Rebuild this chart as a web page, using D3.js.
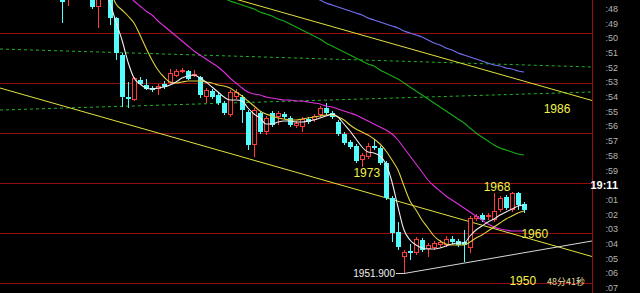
<!DOCTYPE html>
<html lang="zh">
<head>
<meta charset="utf-8">
<title>K线</title>
<script src="https://d3js.org/d3.v7.min.js"></script>
<style>
  html, body { margin: 0; padding: 0; background: #000; }
  svg { display: block; }
</style>
</head>
<body>
<script>
var w = 640, h = 293;
var plotRight = 592;

// candles (index 0 = first candle)
var opens  = [2007.6,2007.2,2010.0,2012.0,2011.0,2009.0,2005.2,2007.0,2009.0,2003.0,
              1995.6,1987.2,1986.6,1990.6,1989.6,1989.0,1988.8,1989.8,1990.0,1991.4,
              1992.2,1992.4,1991.4,1991.2,1987.2,1988.4,1987.6,1986.0,1983.6,1987.2,
              1987.2,1984.2,1977.6,1984.0,1980.2,1984.0,1983.2,1983.8,1983.0,1981.4,
              1981.2,1982.8,1982.6,1983.6,1985.0,1984.0,1982.2,1979.8,1978.2,1977.4,
              1974.6,1975.2,1977.4,1977.0,1974.0,1967.0,1960.2,1955.2,1956.4,1956.0,
              1958.6,1956.8,1957.0,1957.6,1957.6,1958.8,1958.4,1958.2,1957.0,1962.8,
              1963.6,1963.2,1962.6,1964.6,1967.2,1964.6,1968.0,1965.8];
var closes = [2006.2,2008.6,2012.0,2011.0,2009.0,2005.2,2007.0,2009.0,2003.0,1996.0,
              1987.2,1986.8,1991.0,1989.8,1988.8,1988.6,1989.4,1989.2,1992.0,1992.4,
              1992.6,1990.8,1991.8,1987.6,1988.6,1987.2,1986.0,1984.0,1988.2,1988.2,
              1984.6,1977.6,1984.6,1980.2,1983.0,1981.6,1984.0,1983.2,1981.6,1982.0,
              1982.8,1982.2,1983.4,1985.0,1984.0,1983.2,1979.8,1978.0,1977.2,1974.4,
              1975.6,1977.4,1977.0,1974.0,1967.0,1960.0,1957.2,1956.2,1956.0,1958.8,
              1956.6,1957.6,1958.0,1958.2,1958.8,1958.2,1957.6,1957.6,1963.0,1963.4,
              1962.6,1963.6,1964.4,1967.0,1965.0,1968.0,1965.6,1964.6];
var highs  = [2009.0,2010.0,2013.0,2014.0,2012.0,2010.0,2008.0,2010.0,2009.5,2003.2,
              1996.0,1990.2,1991.2,1991.2,1990.8,1989.4,1989.8,1990.4,1992.8,1992.8,
              1993.0,1992.6,1992.6,1991.4,1989.0,1988.8,1988.0,1986.4,1988.6,1988.8,
              1987.6,1984.6,1985.0,1984.4,1983.4,1984.4,1984.4,1984.2,1983.4,1982.4,
              1983.2,1983.2,1983.8,1985.4,1986.0,1984.4,1982.6,1980.2,1978.6,1977.8,
              1976.0,1978.0,1978.6,1977.4,1974.4,1967.4,1962.2,1956.6,1957.8,1959.2,
              1959.0,1958.0,1958.4,1958.6,1959.4,1959.4,1958.8,1960.6,1963.4,1963.8,
              1964.0,1964.0,1968.0,1967.4,1967.6,1968.2,1968.2,1966.2];
var lows   = [2002.0,2005.4,2008.5,2009.0,2007.5,2004.8,2001.0,2007.5,2001.6,1994.6,
              1985.2,1985.0,1986.4,1989.6,1988.6,1988.2,1987.6,1988.8,1989.8,1991.2,
              1992.0,1990.6,1991.2,1987.0,1986.0,1986.8,1985.6,1983.6,1983.2,1986.8,
              1982.0,1976.6,1975.2,1979.8,1979.6,1981.2,1981.6,1982.8,1981.2,1981.0,
              1980.2,1981.8,1982.2,1983.2,1983.6,1982.8,1979.4,1977.6,1976.8,1974.0,
              1973.2,1974.8,1976.6,1973.6,1966.6,1958.2,1956.6,1951.9,1954.6,1955.6,
              1956.2,1955.2,1956.6,1957.2,1957.2,1957.8,1957.2,1954.2,1956.0,1962.4,
              1962.2,1962.6,1962.2,1964.2,1964.6,1964.2,1964.6,1964.0];

// moving averages, each starts at the given candle index
var ma5Start = 7;
var ma5 = [2009.6,2006.0,2002.2,1998.6,1994.2,1991.0,1989.8,1989.0,1988.8,1989.0,
           1989.2,1989.6,1990.2,1991.0,1991.4,1991.6,1991.0,1990.2,1989.2,1988.2,
           1987.2,1986.6,1986.6,1986.4,1985.0,1983.8,1983.0,1981.8,1981.8,1982.2,
           1982.4,1982.4,1982.2,1982.2,1982.4,1982.6,1983.0,1983.4,1983.8,1983.2,
           1981.8,1980.4,1978.8,1977.2,1976.2,1976.0,1975.4,1973.8,1970.2,1965.2,
           1960.6,1958.6,1957.6,1957.0,1956.8,1956.8,1957.0,1957.4,1957.8,1958.0,
           1958.0,1959.4,1960.6,1961.4,1962.2,1962.8,1963.6,1964.2,1964.8,1965.4,1965.6];
var ma10Start = 8;
var ma10 = [2008.6,2005.8,2004.6,2003.4,2002.0,1999.6,1997.0,1994.6,1992.6,1991.2,
            1990.2,1990.0,1990.2,1990.4,1990.4,1990.4,1990.2,1990.0,1989.6,1989.4,
            1989.0,1988.2,1987.4,1986.4,1985.4,1984.4,1983.8,1983.4,1983.0,1982.8,
            1982.6,1982.6,1982.8,1983.0,1983.2,1983.4,1983.6,1983.6,1983.2,1982.6,
            1981.6,1980.8,1980.2,1979.6,1978.8,1977.8,1976.4,1974.6,1972.6,1969.4,
            1966.4,1964.6,1962.6,1961.0,1959.4,1958.4,1957.8,1957.6,1957.6,1957.6,
            1958.2,1959.0,1959.6,1960.4,1961.2,1962.0,1962.8,1963.4,1964.0,1964.4];
var ma20Start = 11;
var ma20 = [2007.6,2006.4,2005.4,2004.4,2003.6,2002.4,2001.4,2000.4,1999.4,1998.4,
            1997.4,1996.4,1995.6,1994.8,1994.0,1993.2,1992.2,1991.0,1990.0,1989.0,
            1988.2,1987.8,1987.6,1987.2,1987.0,1986.8,1986.6,1986.6,1986.4,1986.4,
            1986.2,1986.0,1985.8,1985.4,1985.2,1984.8,1984.4,1984.0,1983.6,1983.0,
            1982.4,1981.8,1981.2,1980.6,1979.8,1978.6,1977.0,1975.4,1973.8,1972.2,
            1970.6,1969.4,1968.4,1967.4,1966.6,1965.8,1965.0,1964.2,1963.4,1962.6,
            1961.8,1961.2,1960.8,1960.6,1960.4,1960.4,1960.4];
var ma60Start = 26;
var ma60 = [2008.2,2007.0,2006.4,2006.0,2005.6,2005.2,2004.8,2004.2,2003.8,2003.4,
            2002.8,2002.4,2001.8,2001.2,2000.6,2000.0,1999.4,1998.8,1998.0,1997.4,
            1996.8,1996.2,1995.6,1995.0,1994.4,1993.8,1993.4,1992.6,1992.0,1991.4,
            1990.8,1990.0,1989.2,1988.4,1987.6,1986.8,1986.0,1985.2,1984.4,1983.6,
            1982.8,1982.0,1981.0,1980.0,1979.2,1978.4,1977.6,1977.0,1976.6,1976.2,
            1975.8,1975.6];
var ma120Start = 42;
var ma120 = [2007.0,2006.6,2006.0,2005.6,2005.2,2004.8,2004.4,2004.0,2003.6,2003.0,
             2002.6,2002.2,2001.8,2001.4,2001.0,2000.4,2000.0,1999.6,1999.2,1998.6,
             1998.0,1997.6,1997.0,1996.6,1996.0,1995.6,1995.2,1994.8,1994.4,1994.0,
             1993.6,1993.4,1993.0,1992.8,1992.4,1992.2];

// drawn lines: [index, price] end points
var trendUpper = [[23, 2008.8], [88.33, 1986.5]];
var trendLower = [[-10.33, 1989.0], [88.33, 1955.3]];
var supportLine = [[57, 1951.9], [88.33, 1958.4]];
var dashUpper = [[-10.33, 1996.8], [88.33, 1993.2]];
var dashLower = [[-10.33, 1984.6], [88.33, 1988.2]];

var gridPrices = [1950, 1960, 1970, 1980, 1990, 2000];
var timeLabels = [":48", ":49", ":50", ":51", ":52", ":53", ":54", ":55", ":56", ":57",
                  ":58", ":59", "19:11", ":01", ":02", ":03", ":04", ":05", ":06", ":07"];
var noteTexts  = ["1986", "1973", "1968", "1960", "1950"];
var noteIndex  = [82.5, 50.8, 72.5, 78.8, 76.8];
var notePrice  = [1984.8, 1972.0, 1969.2, 1959.8, 1950.4];
var lowMark = {index: 57, price: 1951.9, text: "1951.900"};
var countdown = "48分41秒";

var svg = d3.select("body").append("svg")
            .attr("width", w)
            .attr("height", h)
            .style("background", "#000");

var x = d3.scaleLinear().domain([0, 77]).range([62, 524]);
var y = d3.scaleLinear().domain([1950, 2000]).range([283, 33]);
var crisp = function(v) { return Math.round(v) + 0.5; };

svg.append("clipPath").attr("id", "plot")
   .append("rect").attr("x", 0).attr("y", 0).attr("width", plotRight).attr("height", h);

var g = svg.append("g").attr("clip-path", "url(#plot)");

// red price grid
g.selectAll(".grid").data(gridPrices).enter().append("line")
 .attr("x1", 0).attr("x2", plotRight)
 .attr("y1", function(d) { return crisp(y(d)); })
 .attr("y2", function(d) { return crisp(y(d)); })
 .style("stroke", "#940e0e").style("stroke-width", 1)
 .style("shape-rendering", "crispEdges");

// green dashed levels
[dashUpper, dashLower].forEach(function(seg) {
  g.append("line")
   .attr("x1", x(seg[0][0])).attr("y1", y(seg[0][1]))
   .attr("x2", x(seg[1][0])).attr("y2", y(seg[1][1]))
   .style("stroke", "#22b422").style("stroke-width", 1)
   .style("stroke-dasharray", "3,3");
});

// trend lines
var straight = [
  {d: trendUpper, c: "#e2e23e"},
  {d: trendLower, c: "#e2e23e"},
  {d: supportLine, c: "#d8d8d8"}
];
straight.forEach(function(s) {
  g.append("line")
   .attr("x1", x(s.d[0][0])).attr("y1", y(s.d[0][1]))
   .attr("x2", x(s.d[1][0])).attr("y2", y(s.d[1][1]))
   .style("stroke", s.c).style("stroke-width", 1);
});

// candles
var idx = d3.range(opens.length);
var candle = g.selectAll(".candle").data(idx).enter().append("g").attr("class", "candle");

candle.each(function(i) {
  var el = d3.select(this);
  var cx = Math.round(x(i));
  var up = closes[i] > opens[i];
  var top = Math.round(y(Math.max(opens[i], closes[i])));
  var bot = Math.round(y(Math.min(opens[i], closes[i])));
  var hi = Math.round(y(highs[i]));
  var lo = Math.round(y(lows[i]));
  if (bot - top < 1) bot = top + 1;
  if (up) {
    var col = "#ff3c3c";
    el.append("line").attr("x1", cx + 0.5).attr("x2", cx + 0.5)
      .attr("y1", hi).attr("y2", top).style("stroke", col);
    el.append("line").attr("x1", cx + 0.5).attr("x2", cx + 0.5)
      .attr("y1", bot).attr("y2", lo).style("stroke", col);
    el.append("rect").attr("x", cx - 1.5).attr("y", top + 0.5)
      .attr("width", 4).attr("height", Math.max(bot - top - 1, 1))
      .style("fill", "#000").style("stroke", col);
  } else {
    var col2 = "#54fcfc";
    el.append("line").attr("x1", cx + 0.5).attr("x2", cx + 0.5)
      .attr("y1", hi).attr("y2", lo).style("stroke", col2);
    el.append("rect").attr("x", cx - 2).attr("y", top)
      .attr("width", 5).attr("height", bot - top)
      .style("fill", col2);
  }
});

// moving averages
var maLines = [
  {v: ma120, s: ma120Start, c: "#7070f0"},
  {v: ma60, s: ma60Start, c: "#18aa18"},
  {v: ma20, s: ma20Start, c: "#e030e0"},
  {v: ma10, s: ma10Start, c: "#e0d040"},
  {v: ma5, s: ma5Start, c: "#eeeeee"}
];
maLines.forEach(function(m) {
  var line = d3.line()
    .x(function(d, i) { return x(m.s + i); })
    .y(function(d) { return y(d); })
    .curve(d3.curveMonotoneX);
  g.append("path").datum(m.v).attr("d", line)
   .style("fill", "none").style("stroke", m.c).style("stroke-width", 1.1);
});

// low marker
g.append("line")
 .attr("x1", x(lowMark.index) - 8).attr("x2", x(lowMark.index))
 .attr("y1", crisp(y(lowMark.price))).attr("y2", crisp(y(lowMark.price)))
 .style("stroke", "#d8d8d8");
g.append("text")
 .attr("x", x(lowMark.index) - 9).attr("y", y(lowMark.price))
 .attr("text-anchor", "end").attr("dominant-baseline", "central")
 .style("font-family", "Liberation Sans, Arial, sans-serif")
 .style("font-size", "10px").style("fill", "#f0f0f0")
 .text(lowMark.text);

// price notes
g.selectAll(".note").data(noteTexts).enter().append("text")
 .attr("x", function(d, i) { return x(noteIndex[i]); })
 .attr("y", function(d, i) { return y(notePrice[i]); })
 .attr("text-anchor", "middle").attr("dominant-baseline", "central")
 .style("font-family", "Liberation Sans, Arial, sans-serif")
 .style("font-size", "12px").style("fill", "#f2f24a")
 .text(function(d) { return d; });

g.append("text")
 .attr("x", 566).attr("y", 281)
 .attr("text-anchor", "middle").attr("dominant-baseline", "central")
 .style("font-family", "Noto Sans CJK SC, sans-serif")
 .style("font-size", "9px").style("fill", "#e0dc9c")
 .text(countdown);

// right frame line
svg.append("line")
   .attr("x1", plotRight + 0.5).attr("x2", plotRight + 0.5)
   .attr("y1", 0).attr("y2", h)
   .style("stroke", "#9a1010");

// time axis on the right
var t = d3.scalePoint().domain(timeLabels).range([9, 288]);
svg.selectAll(".tl").data(timeLabels).enter().append("text")
   .attr("x", 618)
   .attr("y", function(d) { return t(d); })
   .attr("text-anchor", "end").attr("dominant-baseline", "central")
   .style("font-family", "Liberation Sans, Arial, sans-serif")
   .style("font-size", function(d) { return d === "19:11" ? "11px" : "9px"; })
   .style("font-weight", function(d) { return d === "19:11" ? "bold" : "normal"; })
   .style("fill", function(d) { return d === "19:11" ? "#ffffff" : "#b4b4b4"; })
   .text(function(d) { return d; });
</script>
</body>
</html>
